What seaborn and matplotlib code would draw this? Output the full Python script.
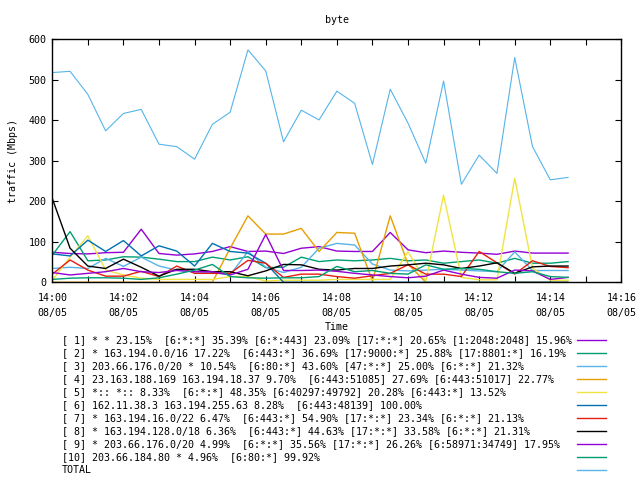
import pandas as pd
import matplotlib
matplotlib.use("Agg")
import matplotlib.pyplot as plt
import matplotlib.dates as mdates
from matplotlib.lines import Line2D
import seaborn as sns

# samples every 30 s, 14:00:00 .. 14:14:30
times = pd.date_range("2010-08-05 14:00:00", periods=30, freq="30s")

s1 = [74, 71, 70, 73, 74, 131, 71, 67, 70, 76, 88, 76, 77, 71, 84,
      88, 77, 76, 76, 123, 80, 73, 77, 74, 72, 69, 77, 72, 72, 72]
s2 = [67, 125, 53, 55, 63, 62, 57, 51, 51, 62, 55, 63, 36, 37, 62,
      51, 55, 53, 55, 59, 53, 55, 47, 51, 55, 47, 59, 47, 47, 51]
s3 = [34, 37, 34, 59, 39, 62, 40, 30, 26, 24, 18, 76, 37, 24, 37,
      84, 96, 92, 45, 30, 28, 30, 32, 30, 28, 26, 75, 29, 29, 29]
s4 = [0, 0, 0, 0, 0, 0, 0, 0, 0, 0, 84, 164, 119, 119, 133,
      76, 123, 121, 3, 164, 45, 0, 0, 0, 0, 0, 0, 0, 0, 0]
s5 = [5, 62, 115, 30, 18, 10, 7, 7, 7, 7, 14, 14, 3, 5, 5,
      5, 7, 7, 7, 7, 75, 3, 215, 12, 6, 6, 257, 35, 5, 5]
s6 = [70, 65, 104, 76, 103, 65, 90, 77, 40, 96, 76, 72, 47, 0, 0,
      0, 0, 0, 0, 0, 0, 0, 0, 0, 0, 0, 0, 0, 0, 0]
s7 = [20, 55, 30, 15, 15, 27, 14, 40, 22, 22, 22, 54, 47, 12, 20,
      20, 14, 10, 16, 22, 43, 20, 20, 14, 76, 48, 20, 53, 39, 36]
s8 = [207, 84, 40, 34, 57, 37, 15, 32, 32, 26, 26, 16, 28, 44, 43,
      32, 30, 34, 34, 40, 43, 47, 43, 34, 40, 48, 22, 38, 40, 40]
s9 = [24, 18, 22, 26, 34, 26, 24, 29, 26, 26, 18, 32, 118, 29, 29,
      30, 27, 22, 18, 14, 11, 15, 30, 20, 12, 10, 30, 28, 7, 12]
s10 = [7, 10, 11, 11, 10, 7, 11, 20, 30, 44, 14, 11, 10, 11, 11,
       14, 39, 26, 29, 22, 20, 43, 32, 34, 32, 26, 22, 26, 14, 12]
total = [518, 521, 464, 374, 417, 427, 341, 335, 304, 390, 420, 574, 522, 347, 425,
         401, 472, 442, 291, 477, 393, 294, 497, 242, 314, 269, 555, 335, 253, 259]

series = [s1, s2, s3, s4, s5, s6, s7, s8, s9, s10, total]

labels = [
    "[ 1] * * 23.15%  [6:*:*] 35.39% [6:*:443] 23.09% [17:*:*] 20.65% [1:2048:2048] 15.96%",
    "[ 2] * 163.194.0.0/16 17.22%  [6:443:*] 36.69% [17:9000:*] 25.88% [17:8801:*] 16.19%",
    "[ 3] 203.66.176.0/20 * 10.54%  [6:80:*] 43.60% [47:*:*] 25.00% [6:*:*] 21.32%",
    "[ 4] 23.163.188.169 163.194.18.37 9.70%  [6:443:51085] 27.69% [6:443:51017] 22.77%",
    "[ 5] *:: *:: 8.33%  [6:*:*] 48.35% [6:40297:49792] 20.28% [6:443:*] 13.52%",
    "[ 6] 162.11.38.3 163.194.255.63 8.28%  [6:443:48139] 100.00%",
    "[ 7] * 163.194.16.0/22 6.47%  [6:443:*] 54.90% [17:*:*] 23.34% [6:*:*] 21.13%",
    "[ 8] * 163.194.128.0/18 6.36%  [6:443:*] 44.63% [17:*:*] 33.58% [6:*:*] 21.31%",
    "[ 9] * 203.66.176.0/20 4.99%  [6:*:*] 35.56% [17:*:*] 26.26% [6:58971:34749] 17.95%",
    "[10] 203.66.184.80 * 4.96%  [6:80:*] 99.92%",
    "TOTAL",
]

colors = ["#9400D3", "#009E73", "#56B4E9", "#E69F00", "#F0E442", "#0072B2",
          "#E51E10", "#000000", "#9400D3", "#009E73", "#56B4E9"]

plt.rcParams["font.family"] = ["DejaVu Sans Mono"]
plt.rcParams["font.size"] = 7.2

fig = plt.figure(figsize=(6.4, 4.8), dpi=100)
ax = fig.add_axes([0.0817, 0.412, 0.8893, 0.506])

for vals, col in zip(series, colors):
    lw = 0.8 if vals is total else 1.0
    sns.lineplot(x=times, y=vals, ax=ax, color=col, linewidth=lw, legend=False)

ax.set_xlim(pd.Timestamp("2010-08-05 14:00"), pd.Timestamp("2010-08-05 14:16"))
ax.set_ylim(0, 600)
ax.set_yticks(range(0, 601, 100))
ax.xaxis.set_major_locator(mdates.MinuteLocator(byminute=range(0, 60, 2)))
ax.xaxis.set_minor_locator(mdates.MinuteLocator(byminute=range(1, 60, 2)))
ax.xaxis.set_major_formatter(mdates.DateFormatter("%H:%M\n%m/%d"))
ax.tick_params(which="both", direction="in", length=4, width=0.8,
               top=True, right=True, colors="black")
ax.tick_params(axis="y", pad=4)
ax.tick_params(axis="x", pad=8)
for t in ax.xaxis.get_major_ticks():
    t.label1.set_linespacing(1.55)
for sp in ax.spines.values():
    sp.set_linewidth(1.0)
    sp.set_color("black")

ax.set_ylabel("traffic (Mbps)", va="center")
ax.yaxis.set_label_coords(-0.069, 0.5)
ax.set_xlabel("Time", va="center")
ax.xaxis.set_label_coords(0.5, -0.184)
ax.text(0.5, 1.079, "byte", transform=ax.transAxes, ha="center", va="center")

# gnuplot-style key below the plot: text on the left, sample line on the right
for k, (lab, col) in enumerate(zip(labels, colors)):
    yk = 1 - (340 + 13 * k) / 480
    fig.text(62 / 640, yk, lab, ha="left", va="center")
    fig.add_artist(Line2D([577 / 640, 606 / 640], [yk, yk], color=col,
                          linewidth=1.0, transform=fig.transFigure))

fig.savefig("out.png", dpi=100)
